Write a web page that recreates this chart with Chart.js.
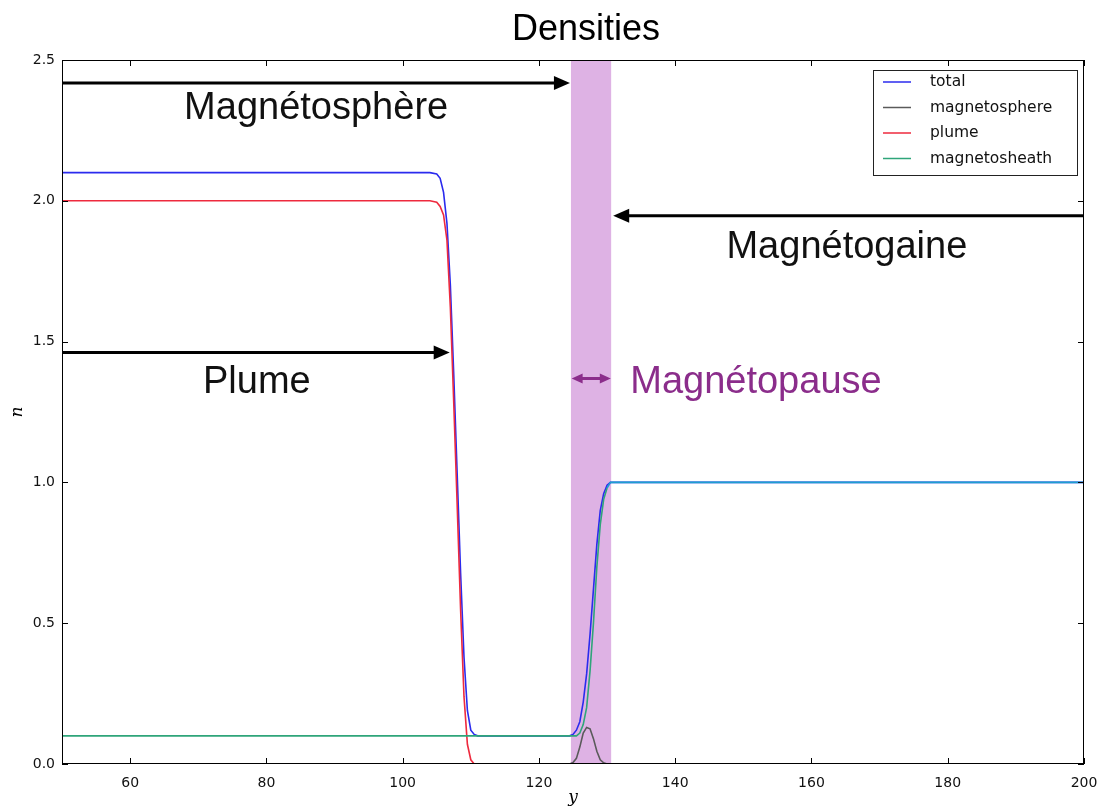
<!DOCTYPE html>
<html><head><meta charset="utf-8">
<script src="https://cdn.jsdelivr.net/npm/chart.js@4"></script>
<style>html,body{margin:0;padding:0;background:#fff}#wrap{width:1103px;height:809px}canvas{display:block}</style>
</head><body><div id="wrap"><canvas id="c" width="1103" height="809"></canvas></div>
<script>
// ---- data ----
const totalX = [50, 104, 105, 105.5, 106, 106.5, 107, 107.5, 108, 108.5, 109, 109.5, 110, 110.5, 111, 112, 124.5, 125, 125.5, 126, 126.5, 127, 127.5, 128, 128.5, 129, 129.5, 130, 130.5, 131, 200];
const totalY = [2.1, 2.1, 2.095, 2.08, 2.03, 1.92, 1.7, 1.38, 1.03, 0.68, 0.38, 0.19, 0.12, 0.105, 0.1, 0.1, 0.1, 0.105, 0.12, 0.15, 0.22, 0.32, 0.46, 0.62, 0.78, 0.9, 0.96, 0.99, 1.0, 1.0, 1.0];

const plumeX = [50, 104, 105, 105.5, 106, 106.5, 107, 107.5, 108, 108.5, 109, 109.5, 110, 110.5, 200];
const plumeY = [2.0, 2.0, 1.995, 1.98, 1.95, 1.86, 1.62, 1.28, 0.92, 0.55, 0.24, 0.07, 0.015, 0.0, 0.0];

const sphereX = [50, 124.5, 125, 125.5, 126, 126.5, 127, 127.5, 128, 128.5, 129, 129.5, 130, 200];
const sphereY = [0, 0, 0.005, 0.02, 0.06, 0.11, 0.13, 0.125, 0.09, 0.045, 0.015, 0.004, 0, 0];

const sheathX = [50, 125, 125.5, 126, 126.5, 127, 127.5, 128, 128.5, 129, 129.5, 130, 130.5, 200];
const sheathY = [0.1, 0.1, 0.1, 0.11, 0.14, 0.2, 0.33, 0.5, 0.7, 0.85, 0.94, 0.98, 1.0, 1.0];

const seriesNames = ['total', 'magnetosphere', 'plume', 'magnetosheath'];
const seriesColors = ['#2b2bee', '#5a5a5a', '#ee2a3e', '#2fa57a'];
const xTicks = [60, 80, 100, 120, 140, 160, 180, 200];
const yTicks = [0, 0.5, 1.0, 1.5, 2.0, 2.5];

// magnetopause band (x range in data units)
const bandRange = [124.7, 130.6];
// annotation arrows, data units: [x0, x1, y, colour, doubleHeaded]
const arrows = [
  [50, 124.55, 2.418, '#000000', false],
  [200, 130.9, 1.947, '#000000', false],
  [50, 106.9, 1.461, '#000000', false],
  [124.8, 130.55, 1.369, '#8b2d8b', true]
];
// annotation texts, data units: [text, x, baselineY, align, colour]
const notes = [
  ['Magnétosphère', 87.3, 2.29, 'center', '#111111'],
  ['Magnétogaine', 165.2, 1.797, 'center', '#111111'],
  ['Plume', 78.6, 1.317, 'center', '#111111'],
  ['Magnétopause', 133.4, 1.317, 'left', '#8b2d8b']
];

const toPts = (xs, ys) => xs.map((x, i) => ({x: x, y: ys[i]}));

const decor = {
  id: 'decor',
  beforeDatasetsDraw(chart) {
    const {ctx, chartArea: ca, scales: {x, y}} = chart;
    ctx.save();
    ctx.fillStyle = 'rgba(195,115,205,0.55)';
    const x0 = x.getPixelForValue(bandRange[0]), x1 = x.getPixelForValue(bandRange[1]);
    ctx.fillRect(x0, ca.top, x1 - x0, ca.bottom - ca.top);
    ctx.restore();
  },
  afterDatasetsDraw(chart) {
    const {ctx, chartArea: ca, scales: {x, y}} = chart;
    ctx.save();
    // frame
    ctx.strokeStyle = '#000'; ctx.lineWidth = 1;
    ctx.strokeRect(ca.left + 0.5, ca.top + 0.5, ca.right - ca.left - 1, ca.bottom - ca.top - 1);
    // inward ticks on all sides
    ctx.beginPath();
    xTicks.forEach(v => {
      const px = Math.round(x.getPixelForValue(v)) + 0.5;
      ctx.moveTo(px, ca.bottom); ctx.lineTo(px, ca.bottom - 6);
      ctx.moveTo(px, ca.top); ctx.lineTo(px, ca.top + 6);
    });
    yTicks.forEach(v => {
      const py = Math.round(y.getPixelForValue(v)) + 0.5;
      ctx.moveTo(ca.left, py); ctx.lineTo(ca.left + 6, py);
      ctx.moveTo(ca.right, py); ctx.lineTo(ca.right - 6, py);
    });
    ctx.stroke();
    // arrows
    arrows.forEach(([a, b, v, col, dbl]) => {
      const xa = x.getPixelForValue(a), xb = x.getPixelForValue(b), py = y.getPixelForValue(v);
      const dir = Math.sign(xb - xa);
      const hl = dbl ? 11 : 16, hw = dbl ? 5 : 7;
      ctx.strokeStyle = col; ctx.fillStyle = col; ctx.lineWidth = 3;
      ctx.beginPath();
      ctx.moveTo(dbl ? xa + dir * hl * 0.6 : xa, py);
      ctx.lineTo(xb - dir * hl * 0.6, py);
      ctx.stroke();
      const head = (tip, d) => {
        ctx.beginPath();
        ctx.moveTo(tip, py);
        ctx.lineTo(tip - d * hl, py - hw);
        ctx.lineTo(tip - d * hl, py + hw);
        ctx.closePath(); ctx.fill();
      };
      head(xb, dir);
      if (dbl) head(xa, -dir);
    });
    // annotation texts
    ctx.textBaseline = 'alphabetic';
    notes.forEach(([t, vx, vy, al, col]) => {
      ctx.font = '38px "Liberation Sans", Arial, sans-serif';
      ctx.fillStyle = col; ctx.textAlign = al;
      ctx.fillText(t, x.getPixelForValue(vx), y.getPixelForValue(vy));
    });
    // legend
    const lx = ca.right - 211, ly = ca.top + 10, lw = 204, lh = 105;
    ctx.fillStyle = '#fff';
    ctx.fillRect(lx, ly, lw, lh);
    ctx.strokeStyle = '#222'; ctx.lineWidth = 1;
    ctx.strokeRect(lx + 0.5, ly + 0.5, lw, lh);
    ctx.font = '15.5px "DejaVu Sans", sans-serif';
    ctx.textAlign = 'left'; ctx.textBaseline = 'middle';
    seriesNames.forEach((n, i) => {
      const yy = ly + 12 + i * 25.5;
      ctx.strokeStyle = seriesColors[i]; ctx.lineWidth = 1.5;
      ctx.beginPath(); ctx.moveTo(lx + 10, yy); ctx.lineTo(lx + 38, yy); ctx.stroke();
      ctx.fillStyle = '#111';
      ctx.fillText(n, lx + 57, yy);
    });
    // title
    ctx.font = '36px "Liberation Sans", Arial, sans-serif';
    ctx.fillStyle = '#000'; ctx.textAlign = 'center'; ctx.textBaseline = 'alphabetic';
    ctx.fillText('Densities', (ca.left + ca.right) / 2 + 13, ca.top - 20);
    // axis titles
    ctx.font = 'italic 17px "DejaVu Serif", serif';
    ctx.fillText('y', (ca.left + ca.right) / 2, ca.bottom + 38);
    ctx.save();
    ctx.translate(ca.left - 44, (ca.top + ca.bottom) / 2);
    ctx.rotate(-Math.PI / 2);
    ctx.textBaseline = 'middle';
    ctx.fillText('n', 0, 0);
    ctx.restore();
    ctx.restore();
  }
};

new Chart(document.getElementById('c'), {
  type: 'line',
  data: {
    datasets: [
      {label: seriesNames[0], data: toPts(totalX, totalY), borderColor: seriesColors[0], order: 4},
      {label: seriesNames[1], data: toPts(sphereX, sphereY), borderColor: seriesColors[1], order: 3},
      {label: seriesNames[2], data: toPts(plumeX, plumeY), borderColor: seriesColors[2], order: 2},
      {label: seriesNames[3], data: toPts(sheathX, sheathY), borderColor: seriesColors[3], order: 1,
       segment: {borderColor: c => c.p0.parsed.x >= 130 ? '#1e9fcf' : undefined}}
    ]
  },
  options: {
    responsive: false, animation: false, devicePixelRatio: 1,
    layout: {padding: {top: 60, right: 19, left: 0, bottom: 0}},
    plugins: {legend: {display: false}, tooltip: {enabled: false}, title: {display: false}},
    elements: {point: {radius: 0}, line: {tension: 0, borderWidth: 1.6, fill: false}},
    scales: {
      x: {
        type: 'linear', min: 50, max: 200,
        afterBuildTicks: ax => { ax.ticks = xTicks.map(v => ({value: v})); },
        afterFit: ax => { ax.height = 45; ax.paddingLeft = 0; ax.paddingRight = 0; },
        grid: {display: false, drawTicks: false}, border: {display: false},
        ticks: {font: {family: 'DejaVu Sans', size: 14}, color: '#111', padding: 11, maxRotation: 0, autoSkip: false}
      },
      y: {
        type: 'linear', min: 0, max: 2.5,
        afterBuildTicks: ax => { ax.ticks = yTicks.map(v => ({value: v})); },
        afterFit: ax => { ax.width = 62; ax.paddingTop = 0; ax.paddingBottom = 0; },
        grid: {display: false, drawTicks: false}, border: {display: false},
        ticks: {font: {family: 'DejaVu Sans', size: 14}, color: '#111', padding: 7, autoSkip: false,
                callback: v => Number(v).toFixed(1)}
      }
    }
  },
  plugins: [decor]
});
</script>
</body></html>
